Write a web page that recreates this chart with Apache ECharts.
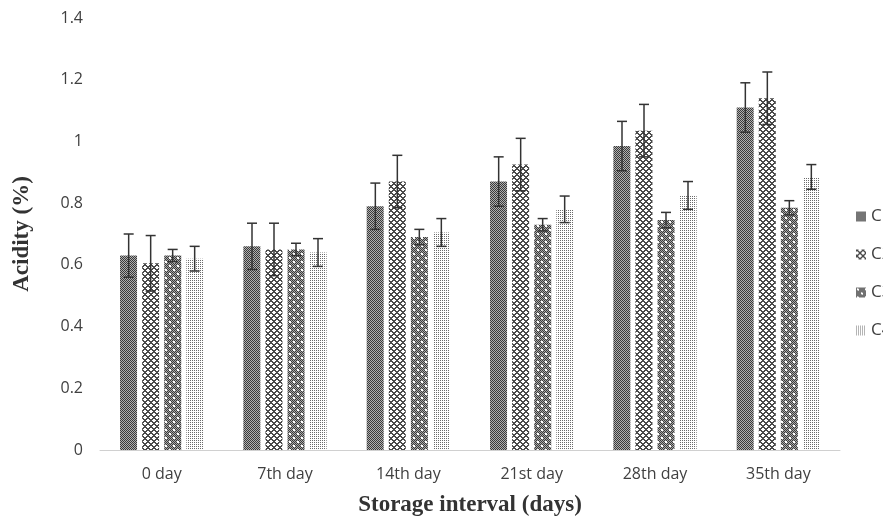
<!DOCTYPE html>
<html>
<head>
<meta charset="utf-8">
<script src="https://cdn.jsdelivr.net/npm/echarts@6/dist/echarts.min.js"></script>
<style>
  html, body { margin: 0; padding: 0; background: #fff; }
  #chart { width: 883px; height: 523px; }
</style>
</head>
<body>
<div id="chart"></div>
<script>
// categories and values
var categories = ['0 day', '7th day', '14th day', '21st day', '28th day', '35th day'];
var seriesNames = ['C1', 'C2', 'C3', 'C4'];
var c1 = [0.63, 0.66, 0.79, 0.87, 0.985, 1.11];
var c2 = [0.605, 0.65, 0.87, 0.925, 1.035, 1.14];
var c3 = [0.63, 0.65, 0.69, 0.73, 0.745, 0.785];
var c4 = [0.62, 0.64, 0.705, 0.78, 0.825, 0.885];
var c1Err = [0.07, 0.075, 0.075, 0.08, 0.08, 0.08];
var c2Err = [0.09, 0.085, 0.085, 0.085, 0.085, 0.085];
var c3Err = [0.02, 0.02, 0.025, 0.02, 0.025, 0.023];
var c4Err = [0.04, 0.045, 0.045, 0.043, 0.045, 0.04];
var yTicks = [0, 0.2, 0.4, 0.6, 0.8, 1, 1.2, 1.4];

var values = [c1, c2, c3, c4];
var errors = [c1Err, c2Err, c3Err, c4Err];

/** build a small repeating canvas tile for the hatch fills */
function makeTile(size, draw) {
    var cv = document.createElement('canvas');
    cv.width = size;
    cv.height = size;
    var ctx = cv.getContext('2d');
    ctx.fillStyle = '#fff';
    ctx.fillRect(0, 0, size, size);
    draw(ctx);
    return { image: cv, repeat: 'repeat' };
}

function checker(ctx, size, dark, light) {
    for (var x = 0; x < size; x++) {
        for (var y = 0; y < size; y++) {
            ctx.fillStyle = (x + y) % 2 === 0 ? dark : light;
            ctx.fillRect(x, y, 1, 1);
        }
    }
}

var patterns = [
    // C1: dense dark checker
    makeTile(2, function (ctx) {
        checker(ctx, 2, '#3a3a3a', '#b0b0b0');
    }),
    // C2: diamond lattice
    makeTile(6, function (ctx) {
        ctx.fillStyle = '#4a4a4a';
        for (var x = 0; x < 6; x++) {
            for (var y = 0; y < 6; y++) {
                var a = (x + y) % 6, b = (x - y + 6) % 6;
                if (a < 2 || b < 2) ctx.fillRect(x, y, 1, 1);
            }
        }
    }),
    // C3: dark checker with sparse white specks
    makeTile(8, function (ctx) {
        checker(ctx, 8, '#3a3a3a', '#a8a8a8');
        ctx.fillStyle = '#fff';
        ctx.fillRect(1, 1, 2, 2);
        ctx.fillRect(5, 5, 2, 2);
    }),
    // C4: light dots
    makeTile(2, function (ctx) {
        ctx.fillStyle = '#6a6a6a';
        ctx.fillRect(0, 0, 1, 1);
    })
];

var BAR_W = 17;
var BAR_STEP = 22;

var series = [];
for (var s = 0; s < 4; s++) {
    series.push({
        name: seriesNames[s],
        type: 'bar',
        barWidth: BAR_W,
        barGap: '30%',
        data: values[s],
        itemStyle: { color: patterns[s] }
    });
}

// error bars
for (var s = 0; s < 4; s++) {
    (function (si) {
        var errData = [];
        for (var i = 0; i < categories.length; i++) {
            errData.push([i, values[si][i] - errors[si][i], values[si][i] + errors[si][i]]);
        }
        series.push({
            type: 'custom',
            name: seriesNames[si] + ' err',
            data: errData,
            z: 10,
            silent: true,
            renderItem: function (params, api) {
                var lo = api.coord([api.value(0), api.value(1)]);
                var hi = api.coord([api.value(0), api.value(2)]);
                var x = lo[0] + (si - 1.5) * BAR_STEP;
                var style = { stroke: '#333', lineWidth: 1.5 };
                return {
                    type: 'group',
                    children: [
                        { type: 'line', shape: { x1: x, y1: lo[1], x2: x, y2: hi[1] }, style: style },
                        { type: 'line', shape: { x1: x - 5, y1: hi[1], x2: x + 5, y2: hi[1] }, style: style },
                        { type: 'line', shape: { x1: x - 5, y1: lo[1], x2: x + 5, y2: lo[1] }, style: style }
                    ]
                };
            }
        });
    })(s);
}

var myChart = echarts.init(document.getElementById('chart'));
myChart.setOption({
    animation: false,
    backgroundColor: '#fff',
    grid: { left: 100, right: 43, top: 18, bottom: 73 },
    legend: {
        data: seriesNames,
        orient: 'vertical',
        left: 851,
        top: 203,
        itemWidth: 10,
        itemHeight: 10,
        itemGap: 21,
        icon: 'rect',
        textStyle: { fontFamily: 'Open Sans', fontSize: 17, color: '#404040' }
    },
    xAxis: {
        type: 'category',
        data: categories,
        name: 'Storage interval (days)',
        nameLocation: 'middle',
        nameGap: 44,
        nameTextStyle: { fontFamily: 'Liberation Serif', fontWeight: 'bold', fontSize: 23, color: '#333' },
        axisLine: { lineStyle: { color: '#d0d0d0', width: 1 } },
        axisTick: { show: false },
        axisLabel: { fontFamily: 'Open Sans', fontSize: 16, color: '#404040', margin: 16 }
    },
    yAxis: {
        type: 'value',
        min: yTicks[0],
        max: yTicks[yTicks.length - 1],
        interval: 0.2,
        name: 'Acidity (%)',
        nameLocation: 'middle',
        nameGap: 66,
        nameTextStyle: { fontFamily: 'Liberation Serif', fontWeight: 'bold', fontSize: 23, color: '#333' },
        axisLine: { show: false },
        axisTick: { show: false },
        splitLine: { show: false },
        axisLabel: {
            fontFamily: 'Open Sans', fontSize: 16, color: '#404040', margin: 17,
            formatter: function (v) { return String(Math.round(v * 10) / 10); }
        }
    },
    series: series
});
</script>
</body>
</html>
